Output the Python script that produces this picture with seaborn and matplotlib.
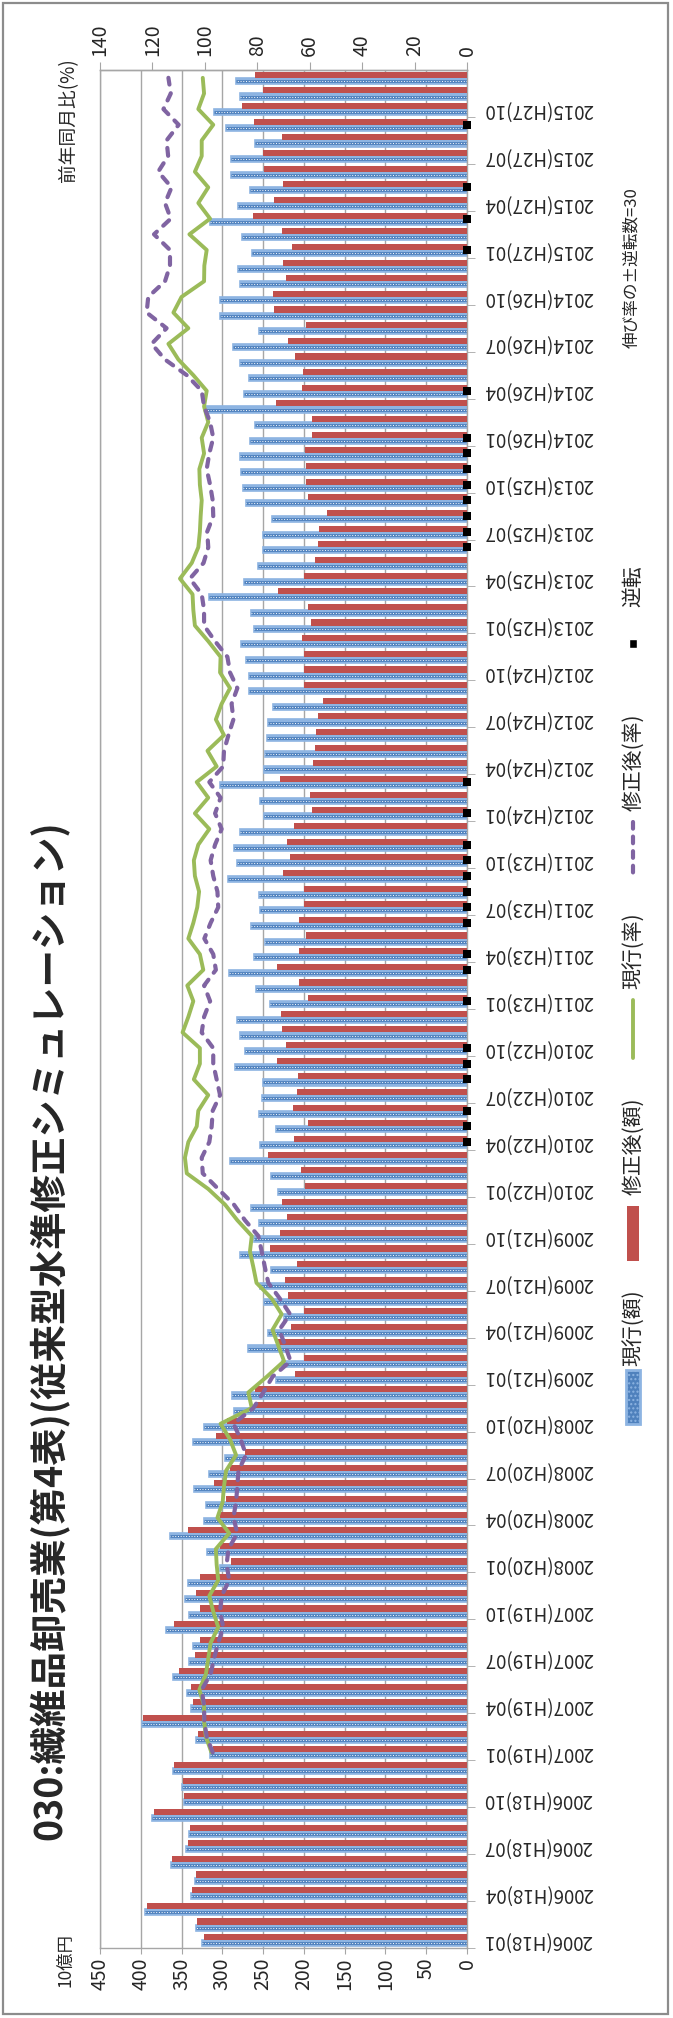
import pandas as pd
import matplotlib
matplotlib.use('Agg')
import matplotlib.pyplot as plt
import seaborn as sns
from matplotlib.patches import Rectangle

sns.set_style("white")
plt.rcParams['font.family'] = ['Noto Sans CJK JP', 'DejaVu Sans']

# categories: 2006(H18)01 .. 2015(H27)12
years = list(range(2006, 2016))
month_nums = list(range(1, 13))
months = [f"{y}(H{y - 1988}){m:02d}" for y in years for m in month_nums]

# 現行(額) / 修正後(額), 10億円
genko_gaku = [
    325, 332, 394.4, 338.5, 334, 363, 344.2, 341.4, 385.9, 347.5, 349.5, 360.6,
    315.6, 332, 398.5, 338.5, 343.4, 360.6, 341.4, 336.1, 368.7, 341.4, 345.5, 342.6,
    303, 318.9, 363.8, 323, 319.7, 335.2, 316.9, 296.5, 336.1, 322.2, 286.2, 288.3,
    234, 227, 269, 243.4, 225, 249.5, 254.4, 240.5, 278, 261.7, 255.6, 265,
    232.3, 240.5, 290.3, 254.4, 234, 255.6, 251.5, 250.3, 284.2, 271.9, 278.9, 282.2,
    241.3, 258.5, 292.4, 261.7, 247.4, 265, 253.6, 255.6, 293.6, 282.2, 286.2, 278,
    249.5, 254.4, 302.6, 249.5, 247.4, 245.4, 243.4, 238, 267.9, 267.9, 270.7, 277.3,
    260.9, 265, 316.9, 274, 256.8, 250.3, 250.3, 239.3, 270.7, 274.8, 277.3, 278,
    265.8, 260.5, 319.7, 273.2, 267.9, 278, 287.5, 255.6, 303.4, 303.4, 278, 281.3,
    263.8, 276, 315.6, 281.3, 265.8, 289.5, 289.5, 259.7, 295.2, 310, 278.9, 283,
]
shusei_gaku = [
    323, 331.2, 392.4, 337.3, 332, 361.8, 342.6, 340.1, 384.2, 346.7, 348.7, 359.7,
    311.6, 330.3, 397.3, 336.1, 338.5, 353.6, 333.2, 327.9, 358.9, 327.9, 332, 327.9,
    289.5, 302.6, 342.6, 302.6, 295.2, 310.7, 290.3, 272, 307.5, 294.4, 259.7, 259.7,
    210.7, 199.7, 233.2, 215.6, 199.7, 218.9, 223, 208.7, 242.1, 229.9, 220.1, 227,
    198.4, 203.3, 243.4, 212.7, 194.4, 213.6, 208.7, 207.4, 233.2, 221.7, 227, 228.3,
    194.4, 206.6, 233.2, 206.6, 197.2, 206.6, 199.7, 199.7, 225.8, 217.6, 220.1, 211.9,
    190.3, 193.1, 229.1, 189.1, 186.2, 185, 182.1, 176.8, 199.7, 199.7, 199.7, 202.5,
    191.5, 194.4, 231.9, 199.7, 186.2, 182.1, 180.9, 171.9, 194.4, 197.2, 197.2, 198.4,
    190.3, 190.3, 234.8, 202.5, 200.5, 210.7, 220, 197.2, 237.2, 238, 221.7, 225.8,
    214.8, 227, 263, 236.4, 225.8, 248.3, 250.3, 227, 261.7, 276.4, 250.3, 259.7,
]

# 現行(率) / 修正後(率), 前年同月比(%), from 2007(H19)01
genko_ritsu = [
    97.5, 99.6, 100.3, 100.3, 102.1, 99.6, 98.7, 97.8, 94.9, 96.8, 98.3, 94.9,
    95.5, 95.8, 90.7, 95.2, 93.2, 92.7, 91.9, 88.1, 90.4, 94, 82.1, 83.4,
    76.4, 69.8, 72, 74.2, 70.7, 74.5, 80.3, 81.5, 82.8, 82.1, 87.6, 92.3,
    98.7, 106.9, 107.6, 106.3, 103.1, 102.5, 98.7, 104.2, 101.9, 101.9, 108.5, 106.3,
    104.4, 106.7, 100.6, 101.9, 106.3, 104.4, 102.9, 102.2, 103.8, 104.2, 102.5, 98.3,
    103.8, 98.7, 103.1, 95.5, 99, 92.7, 95.8, 93.6, 90.4, 94.2, 94, 98.7,
    103.8, 104.4, 104.7, 109.5, 105, 102.5, 101.9, 101.6, 101.2, 101.9, 102.1, 100.3,
    101.2, 98.7, 100.3, 99.3, 104.4, 110.1, 113.9, 106.3, 112, 108.9, 100.3, 100.2,
    99.3, 105.9, 98, 102.5, 98.7, 103.8, 101.2, 101.2, 96.8, 102.5, 100.3, 100.8,
]
shusei_ritsu = [
    97, 99.3, 100.2, 100.3, 101.2, 97.8, 96.5, 94.9, 93, 94.2, 93.6, 90.7,
    91.7, 91, 87.6, 89.1, 88.1, 87.6, 87.2, 84.3, 86.3, 89.1, 81.5, 77.7,
    74.2, 67.3, 69.4, 71.6, 67.5, 71.4, 75.8, 77.1, 78.3, 79.6, 84.7, 88.9,
    94.9, 100.8, 101.2, 98.3, 97.4, 97, 94.2, 95.5, 96.8, 96.8, 101.2, 100.3,
    98, 100.3, 95.8, 96.8, 100.2, 97.8, 94.9, 95.2, 96.8, 97.8, 96.1, 93.6,
    96.1, 94, 98.3, 93, 92.7, 91, 89.1, 89.8, 87.6, 90.4, 91.4, 96.1,
    100.3, 100.3, 101.2, 105.7, 100.5, 98.7, 99.1, 96.8, 97, 98, 99.3, 98.3,
    96.8, 98, 100.3, 101.2, 106.9, 115.2, 120.3, 114.6, 122.2, 121.6, 115.2, 113.3,
    113.3, 119.4, 113, 115.2, 112.7, 117.8, 114, 114.6, 110, 115.8, 113, 113.9,
]

# months where the sign of growth flips (逆転)
gyakuten = [
    "2010(H22)04", "2010(H22)05", "2010(H22)06", "2010(H22)08", "2010(H22)09",
    "2010(H22)10", "2011(H23)01", "2011(H23)03", "2011(H23)04", "2011(H23)06",
    "2011(H23)07", "2011(H23)08", "2011(H23)09", "2011(H23)10", "2011(H23)11",
    "2012(H24)01", "2012(H24)03", "2013(H25)06", "2013(H25)07", "2013(H25)08",
    "2013(H25)09", "2013(H25)10", "2013(H25)11", "2013(H25)12", "2014(H26)01",
    "2014(H26)04", "2015(H27)01", "2015(H27)03", "2015(H27)05", "2015(H27)09",
]

BLUE_LIGHT = '#8DB4E2'
BLUE_DARK = '#4F81BD'
RED = '#C0504D'
GREEN = '#9BBB59'
PURPLE = '#8064A2'
GRID = '#A6A6A6'

W, H = 673, 2018
fig = plt.figure(figsize=(W / 100, H / 100), dpi=100)
ax = fig.add_axes([100 / W, 70 / H, 367 / W, 1878 / H])

n = len(months)
pos = {m: i for i, m in enumerate(months)}

bars = pd.DataFrame({
    'month': months * 2,
    'value': genko_gaku + shusei_gaku,
    'series': ['現行(額)'] * n + ['修正後(額)'] * n,
})
sns.barplot(data=bars, y='month', x='value', hue='series',
            hue_order=['現行(額)', '修正後(額)'], palette=[BLUE_LIGHT, RED],
            orient='h', width=0.78, saturation=1, legend=False, ax=ax)

blue_patches = ax.patches[:n]
red_patches = ax.patches[n:2 * n]
for p in blue_patches:
    p.set_edgecolor(BLUE_LIGHT)
    p.set_linewidth(1.2)
    p.set_zorder(2)
for p in red_patches:
    p.set_edgecolor('none')
    p.set_zorder(3)

# texture of the blue bars: dark core line with white dots
yc = [p.get_y() + p.get_height() / 2 for p in blue_patches]
ax.hlines(yc, 0, genko_gaku, colors=BLUE_DARK, lw=2.0, zorder=2.5)
ax.hlines(yc, 0, genko_gaku, colors='white', lw=0.7,
          linestyles=(0, (1, 1.8)), zorder=2.6)

ax.set_xlim(450, 0)
ax.set_ylim(-0.5, n - 0.5)
ax.set_xticks(range(0, 451, 50))
ax.set_xlabel('')
ax.set_ylabel('')
ax.grid(axis='x', color=GRID, lw=1)
ax.grid(axis='y', visible=False)
ax.set_axisbelow(True)
ax.tick_params(axis='x', labelsize=14, labelrotation=90, length=4,
               color=GRID, pad=3)

# category axis on the right, labels every 3 months
ax.yaxis.tick_right()
ax.set_yticks(range(0, n, 3))
ax.set_yticklabels(months[::3])
ax.set_yticks([i - 0.5 for i in range(0, n, 3)], minor=True)
ax.tick_params(axis='y', which='major', length=0, labelsize=13.5,
               labelrotation=180, pad=12)
ax.tick_params(axis='y', which='minor', length=6, color=GRID, direction='out')
for t in ax.get_yticklabels():
    t.set_va('center')
    t.set_ha('left')

for s in ax.spines.values():
    s.set_color(GRID)
    s.set_linewidth(1)

# percentage axis on top
ax2 = ax.twiny()
rate_months = months[12:]
rates = pd.DataFrame({'y': [pos[m] for m in rate_months],
                      'genko': genko_ritsu, 'shusei': shusei_ritsu})
sns.lineplot(data=rates, x='genko', y='y', orient='y', sort=False,
             color=GREEN, lw=2.8, ax=ax2)
sns.lineplot(data=rates, x='shusei', y='y', orient='y', sort=False,
             color=PURPLE, lw=3.0, ax=ax2)
ax2.lines[-1].set_dashes((1.9, 2.1))
ax2.lines[-1].set_dash_capstyle('round')

# reversal markers at zero on the category axis, above every spine
rev_y = [pos[m] for m in gyakuten]
ax2.scatter([0] * len(rev_y), rev_y, marker='s', s=36, color='black',
            linewidths=0, zorder=6, clip_on=False)

ax2.set_xlim(140, 0)
ax2.set_ylim(-0.5, n - 0.5)
ax2.set_xticks(range(0, 141, 20))
ax2.set_xlabel('')
ax2.set_ylabel('')
ax2.tick_params(axis='x', labelsize=14, labelrotation=90, length=6,
                color=GRID, pad=4)
for side, s in ax2.spines.items():
    s.set_color(GRID)
    s.set_linewidth(1)
    if side != 'top':
        s.set_visible(False)

# overlay in pixel coordinates for the free texts, legend and frame
ov = fig.add_axes([0, 0, 1, 1], facecolor='none')
ov.set_xlim(0, W)
ov.set_ylim(H, 0)
ov.axis('off')

ov.add_patch(Rectangle((3, 3), W - 8, H - 7, fill=False,
                       edgecolor='#8C8C8C', lw=1.6))

ov.text(50, 1330, '030:繊維品卸売業(第4表)(従来型水準修正シミュレーション)',
        rotation=90, fontsize=27, fontweight='bold', ha='center', va='center')
ov.text(69, 120, '前年同月比(%)', rotation=90, fontsize=13.5,
        ha='center', va='center')
ov.text(65, 1960, '10億円', rotation=90, fontsize=12.5,
        ha='center', va='center')
ov.text(632, 268, '伸び率の±逆転数=30', rotation=90, fontsize=12,
        ha='center', va='center')

# legend, read bottom to top
lx = 633
ov.add_patch(Rectangle((lx - 7, 1370), 14, 54, facecolor=BLUE_DARK,
                       edgecolor=BLUE_LIGHT, lw=2, hatch='....'))
ov.text(lx, 1328, '現行(額)', rotation=90, fontsize=15, ha='center', va='center')
ov.add_patch(Rectangle((lx - 6, 1206), 12, 55, facecolor=RED, edgecolor='none'))
ov.text(lx, 1146, '修正後(額)', rotation=90, fontsize=15, ha='center', va='center')
ov.plot([lx, lx], [1000, 1058], color=GREEN, lw=2.8)
ov.text(lx, 951, '現行(率)', rotation=90, fontsize=15, ha='center', va='center')
ov.plot([lx, lx], [822, 878], color=PURPLE, lw=3.0, dashes=(1.6, 1.9),
        dash_capstyle='round')
ov.text(lx, 762, '修正後(率)', rotation=90, fontsize=15, ha='center', va='center')
ov.add_patch(Rectangle((lx - 4, 639), 8, 9, facecolor='black'))
ov.text(lx, 586, '逆転', rotation=90, fontsize=15, ha='center', va='center')

fig.savefig('out.png', dpi=100)
